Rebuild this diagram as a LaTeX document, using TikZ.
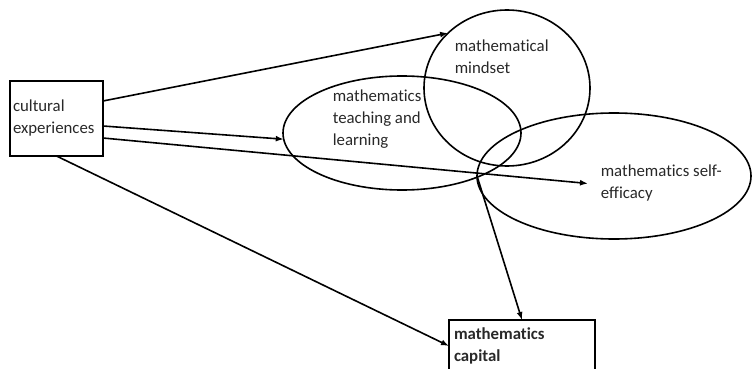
\documentclass[tikz,border=0pt]{standalone}
\usepackage{fontspec}
\setmainfont{Carlito}[Ligatures={NoCommon}]
\usetikzlibrary{shapes.geometric,arrows.meta}
\definecolor{inkgrey}{RGB}{40,40,40}

\begin{document}
\begin{tikzpicture}[x=1pt,y=-1pt,line width=1.6pt,
  every node/.style={font=\fontsize{16.8}{22}\selectfont,text=inkgrey},
  blob/.style={ellipse,draw,inner sep=0pt,outer sep=0pt},
  box/.style={draw,align=left,inner sep=3pt,outer sep=0pt},
  lbl/.style={anchor=west,align=left,inner sep=0pt},
  arr/.style={-{Latex[length=8pt,width=6pt]}}]
  \useasboundingbox (0,0) rectangle (752,369);
  \node[box,text width=87pt,minimum height=75pt] (cult) at (56.5,118.5) {cultural\\experiences};
  \node[box,text width=136pt,minimum height=52pt,inner sep=5pt,
        font=\fontsize{16.8}{22}\selectfont\bfseries] (cap) at (522,346) {mathematics\\capital};
  \node[blob,minimum width=166pt,minimum height=156pt] (mind) at (507,88) {};
  \node[blob,minimum width=238pt,minimum height=114pt] (teach) at (402,133) {};
  \node[blob,minimum width=274pt,minimum height=126pt] (eff) at (614,176) {};
  \node[lbl] (mindtxt) at (454,56.5) {mathematical\\mindset};
  \node[lbl] (teachtxt) at (332,119) {mathematics\\teaching and\\learning};
  \node[lbl] (efftxt) at (600,183.5) {mathematics self-\\efficacy};
  \draw[arr] ([yshift=17.5pt]cult.east) -- (mind.137);
  \draw[arr] ([yshift=-7.5pt]cult.east) -- (teach.183);
  \draw[arr] ([yshift=-19.5pt]cult.east) -- ([xshift=-12pt]efftxt.west);
  \draw[arr] (cult.south) -- (cap.west);
  \draw[arr] (eff.west) -- (cap.north);
\end{tikzpicture}
\end{document}
